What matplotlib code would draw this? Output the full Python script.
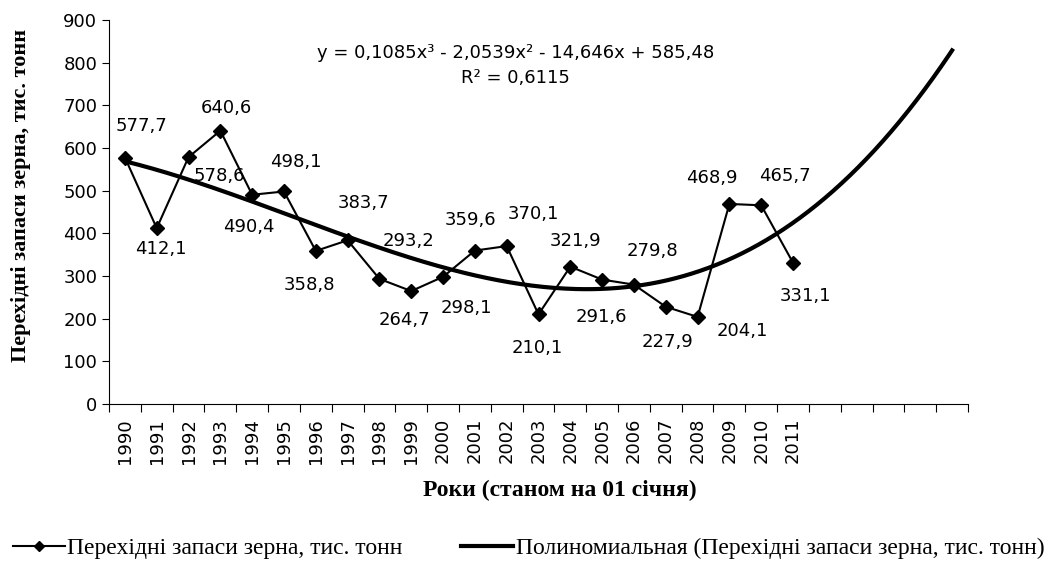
import numpy as np
import matplotlib.pyplot as plt
from matplotlib.lines import Line2D

years = list(range(1990, 2012))
stocks = [577.7, 412.1, 578.6, 640.6, 490.4, 498.1, 358.8, 383.7, 293.2, 264.7, 298.1,
          359.6, 370.1, 210.1, 321.9, 291.6, 279.8, 227.9, 204.1, 468.9, 465.7, 331.1]
labels = [f'{v:.1f}'.replace('.', ',') for v in stocks]
forecast = 5  # trend extended 5 periods forward

# label offsets (pixels) as placed in the original
offs = [(17, -32), (4, 21), (31, 19), (6, -23), (-3, 32), (12, -29), (-6, 34), (16, -37),
        (29, -38), (-7, 29), (23, 31), (-4, -31), (27, -32), (-1, 34), (5, -26), (-1, 37),
        (18, -34), (2, 35), (45, 14), (-18, -26), (24, -29), (12, 33)]

n = len(stocks)
x = np.arange(1, n + 1)
coef = np.polyfit(x, stocks, 3)
xt = np.linspace(1, n + forecast, 300)
yt = np.polyval(coef, xt)

fig = plt.figure(figsize=(10.57, 5.66), dpi=100)
ax = fig.add_axes([109 / 1057, 1 - 404 / 566, (968 - 109) / 1057, (404 - 20) / 566])

ax.plot(x, stocks, color='black', lw=1.5, marker='D', ms=7, zorder=3)
ax.plot(xt, yt, color='black', lw=3, zorder=2)

for xi, v, lab, (dx, dy) in zip(x, stocks, labels, offs):
    ax.annotate(lab, (xi, v), xytext=(dx, -dy), textcoords='offset pixels',
                ha='center', va='center', fontsize=13, family='DejaVu Sans')

ax.text(0.473, 0.915, 'y = 0,1085x³ - 2,0539x² - 14,646x + 585,48',
        transform=ax.transAxes, ha='center', va='center', fontsize=13)
ax.text(0.473, 0.848, 'R² = 0,6115', transform=ax.transAxes, ha='center', va='center', fontsize=13)

ax.set_xlim(0.5, n + forecast + 0.5)
ax.set_ylim(0, 900)
ax.set_yticks(range(0, 901, 100))
ax.tick_params(axis='y', labelsize=13, length=5, direction='out')
ax.set_xticks(np.arange(0.5, n + forecast + 1, 1))
ax.set_xticklabels([])
ax.tick_params(axis='x', which='major', length=6, direction='out')
ax.set_xticks(x, minor=True)
ax.set_xticklabels([str(y) for y in years], minor=True, rotation=90, fontsize=13)
ax.tick_params(axis='x', which='minor', length=0, pad=10)
for s in ['top', 'right']:
    ax.spines[s].set_visible(False)

fig.text(21 / 1057, 1 - 195 / 566, 'Перехідні запаси зерна, тис. тонн', family='Liberation Serif',
         fontweight='bold', fontsize=16, rotation=90, ha='center', va='center')
fig.text(560 / 1057, 1 - 490 / 566, 'Роки (станом на 01 січня)', family='Liberation Serif',
         fontweight='bold', fontsize=17, ha='center', va='center')

h1 = Line2D([], [], color='black', lw=1.5, marker='D', ms=5)
h2 = Line2D([], [], color='black', lw=3)
fig.legend([h1, h2], ['Перехідні запаси зерна, тис. тонн',
                      'Полиномиальная (Перехідні запаси зерна, тис. тонн)'],
           loc='center', bbox_to_anchor=(0.5, 1 - 548 / 566), ncol=2, frameon=False,
           prop={'family': 'Liberation Serif', 'size': 17}, handlelength=2.2,
           handletextpad=0.1, columnspacing=2.5)

fig.savefig('out.png', dpi=100)
